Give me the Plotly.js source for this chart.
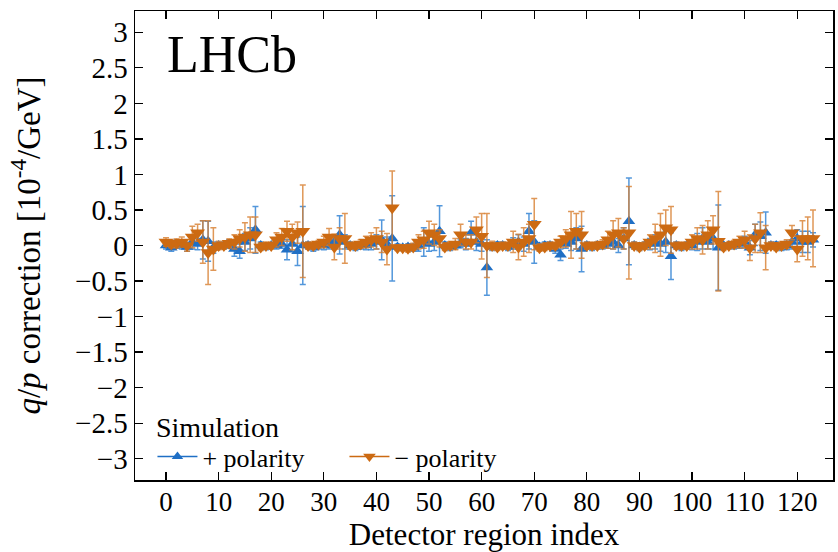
<!DOCTYPE html>
<html>
<head>
<meta charset="utf-8">
<script src="https://cdn.plot.ly/plotly-3.0.1.min.js"></script>
<style>html,body{margin:0;padding:0;background:#fff;}#chart{width:838px;height:552px;}</style>
</head>
<body>
<div id="chart"></div>
<script>
// Detector region index 0..123
const regionIndex = Array.from({length: 124}, (_, i) => i);

// + polarity: q/p correction [1e-4/GeV] and uncertainty
const plusValues = [
 0.00,-0.03,0.02,0.00,-0.02,0.05,0.02,0.08,0.06,-0.03,
 0.00,0.00,0.02,-0.05,-0.08,0.05,0.10,0.22,0.00,-0.02,
 0.00,0.00,0.02,-0.06,0.02,-0.08,0.00,0.00,-0.03,0.00,
 0.00,0.05,0.05,0.15,0.05,0.00,-0.02,0.00,0.00,0.02,
 0.05,0.08,0.02,0.10,-0.02,-0.03,-0.02,-0.03,0.00,0.05,
 0.02,0.05,0.20,0.00,-0.02,0.00,0.03,0.02,0.18,0.05,
 0.02,-0.31,-0.02,0.00,0.00,-0.02,0.03,0.05,0.02,0.20,
 0.05,-0.02,0.00,0.00,-0.05,-0.13,0.02,0.05,0.10,-0.05,
 0.00,-0.02,0.00,0.00,0.02,0.05,0.00,0.10,0.34,0.00,
 -0.02,0.00,0.02,0.05,0.02,0.05,-0.15,0.00,-0.02,0.00,
 0.00,0.05,0.10,0.05,0.10,-0.03,0.00,0.00,0.00,0.02,
 0.05,-0.03,0.15,0.13,0.18,0.00,0.00,-0.02,0.00,0.05,
 0.10,0.05,0.05,0.08
];
const plusErrors = [
 0.05,0.05,0.06,0.05,0.06,0.10,0.08,0.27,0.28,0.08,
 0.05,0.05,0.06,0.10,0.10,0.12,0.15,0.33,0.05,0.04,
 0.04,0.05,0.06,0.14,0.10,0.20,0.55,0.05,0.05,0.05,
 0.06,0.10,0.08,0.27,0.10,0.05,0.05,0.05,0.06,0.08,
 0.10,0.28,0.10,0.60,0.04,0.04,0.04,0.05,0.08,0.20,
 0.10,0.12,0.36,0.05,0.05,0.05,0.06,0.08,0.16,0.12,
 0.10,0.39,0.05,0.05,0.05,0.05,0.08,0.10,0.10,0.25,
 0.30,0.05,0.05,0.05,0.06,0.08,0.06,0.12,0.15,0.32,
 0.05,0.05,0.05,0.05,0.06,0.10,0.10,0.15,0.61,0.05,
 0.05,0.05,0.08,0.10,0.10,0.15,0.33,0.05,0.05,0.05,
 0.06,0.12,0.15,0.10,0.15,0.60,0.04,0.04,0.05,0.06,
 0.08,0.10,0.15,0.20,0.29,0.05,0.05,0.05,0.06,0.10,
 0.12,0.15,0.15,0.10
];

// - polarity
const minusValues = [
 0.05,0.02,0.03,0.05,0.00,0.12,0.18,0.05,-0.10,-0.05,
 0.00,0.00,0.03,0.05,0.10,0.12,0.15,0.15,-0.02,0.00,
 0.00,0.08,0.12,0.20,0.12,0.18,0.20,0.00,0.00,0.02,
 0.05,0.12,-0.02,0.10,0.10,0.00,0.00,0.02,0.05,0.08,
 0.10,0.05,-0.05,0.53,-0.03,-0.03,-0.04,-0.02,0.05,0.08,
 0.18,0.15,0.10,-0.02,0.00,0.02,0.15,0.05,0.05,0.22,
 0.13,0.00,0.00,-0.02,0.00,0.00,0.05,-0.02,0.05,0.10,
 0.30,-0.03,-0.02,0.00,0.00,0.05,0.10,0.15,0.20,0.15,
 0.00,0.00,0.00,0.02,0.08,0.15,0.18,0.10,0.18,0.00,
 -0.02,0.00,0.05,0.10,0.15,0.25,0.22,0.00,0.00,0.00,
 0.05,0.10,0.08,0.15,0.22,0.06,-0.02,0.00,0.02,0.05,
 0.08,-0.03,0.10,0.18,-0.03,0.00,-0.02,0.00,0.02,0.18,
 -0.05,0.10,0.10,0.10
];
const minusErrors = [
 0.06,0.05,0.06,0.07,0.08,0.15,0.12,0.30,0.45,0.30,
 0.06,0.05,0.06,0.10,0.12,0.20,0.25,0.25,0.05,0.05,
 0.05,0.10,0.12,0.14,0.18,0.15,0.65,0.05,0.05,0.05,
 0.08,0.12,0.18,0.15,0.35,0.05,0.05,0.06,0.08,0.10,
 0.15,0.15,0.22,0.52,0.04,0.04,0.05,0.05,0.10,0.12,
 0.16,0.15,0.12,0.05,0.05,0.08,0.15,0.10,0.10,0.18,
 0.32,0.45,0.06,0.05,0.05,0.05,0.15,0.18,0.20,0.20,
 0.36,0.05,0.05,0.05,0.05,0.08,0.12,0.33,0.25,0.33,
 0.05,0.05,0.05,0.06,0.12,0.20,0.20,0.15,0.65,0.05,
 0.05,0.05,0.10,0.20,0.30,0.25,0.33,0.05,0.05,0.05,
 0.10,0.15,0.20,0.20,0.20,0.70,0.05,0.05,0.05,0.08,
 0.12,0.18,0.20,0.28,0.31,0.05,0.05,0.05,0.06,0.10,
 0.18,0.25,0.30,0.40
];

const xTickVals = [0,10,20,30,40,50,60,70,80,90,100,110,120];
const yTickVals = [-3,-2.5,-2,-1.5,-1,-0.5,0,0.5,1,1.5,2,2.5,3];
const yTickText = ['\u22123','\u22122.5','\u22122','\u22121.5','\u22121','\u22120.5','0','0.5','1','1.5','2','2.5','3'];
const seriesNames = ['+ polarity', '\u2212 polarity'];

const blue = '#1f6fc5';
const orange = '#cc6a12';
const serif = '"Liberation Serif", "Times New Roman", serif';

const traces = [
  {
    x: regionIndex, y: plusValues, type: 'scatter', mode: 'markers',
    showlegend: false, legendgroup: 'p',
    marker: {symbol: 'triangle-up', size: 11, color: blue},
    error_y: {type: 'data', array: plusErrors, visible: true, color: 'rgba(40,125,210,0.8)', thickness: 1.5, width: 3}
  },
  {
    x: regionIndex, y: minusValues, type: 'scatter', mode: 'markers',
    showlegend: false, legendgroup: 'm',
    marker: {symbol: 'triangle-down', size: 13, color: orange},
    error_y: {type: 'data', array: minusErrors, visible: true, color: 'rgba(215,125,45,0.8)', thickness: 1.5, width: 3}
  },
  {
    x: [null], y: [null], type: 'scatter', mode: 'lines+markers', name: seriesNames[0],
    legendgroup: 'p', line: {color: blue, width: 1.5},
    marker: {symbol: 'triangle-up', size: 10, color: blue}
  },
  {
    x: [null], y: [null], type: 'scatter', mode: 'lines+markers', name: seriesNames[1],
    legendgroup: 'm', line: {color: orange, width: 1.5},
    marker: {symbol: 'triangle-down', size: 11, color: orange}
  }
];

const axisCommon = {
  showline: true, linecolor: '#000', linewidth: 1.5, mirror: 'ticks',
  ticks: 'inside', ticklen: 8, tickwidth: 1.2, tickcolor: '#000',
  showgrid: false, zeroline: false,
  tickfont: {family: serif, size: 29, color: '#000'}
};

const layout = {
  width: 838, height: 552,
  margin: {l: 135, r: 5, t: 11, b: 72},
  paper_bgcolor: '#fff', plot_bgcolor: '#fff',
  font: {family: serif, color: '#000'},
  xaxis: Object.assign({}, axisCommon, {
    range: [-5.9, 126.8], tickmode: 'array', tickvals: xTickVals,
    tickfont: {family: serif, size: 27, color: '#000'}, ticklabelstandoff: -3,
    title: {text: 'Detector region index', font: {family: serif, size: 31, color: '#000'}, standoff: 6}
  }),
  yaxis: Object.assign({}, axisCommon, {
    range: [-3.3, 3.3], tickmode: 'array', tickvals: yTickVals, ticktext: yTickText,
    title: {text: '<i>q</i>/<i>p</i> correction [10<sup>-4</sup>/GeV]', font: {family: serif, size: 33, color: '#000'}, standoff: 24}
  }),
  showlegend: true,
  legend: {
    orientation: 'h', x: 0.025, y: 0.0, xanchor: 'left', yanchor: 'bottom',
    bgcolor: 'rgba(0,0,0,0)', font: {family: serif, size: 26, color: '#000'},
    entrywidth: 137, entrywidthmode: 'pixels', itemwidth: 40, traceorder: 'normal'
  },
  annotations: [
    {text: 'LHCb', xref: 'paper', yref: 'paper', x: 0.043, y: 0.908, xanchor: 'left', yanchor: 'middle',
     showarrow: false, font: {family: serif, size: 52, color: '#000'}},
    {text: 'Simulation', xref: 'paper', yref: 'paper', x: 0.027, y: 0.113, xanchor: 'left', yanchor: 'middle',
     showarrow: false, font: {family: serif, size: 28, color: '#000'}}
  ]
};

Plotly.newPlot('chart', traces, layout, {displayModeBar: false, staticPlot: true});
</script>
</body>
</html>
